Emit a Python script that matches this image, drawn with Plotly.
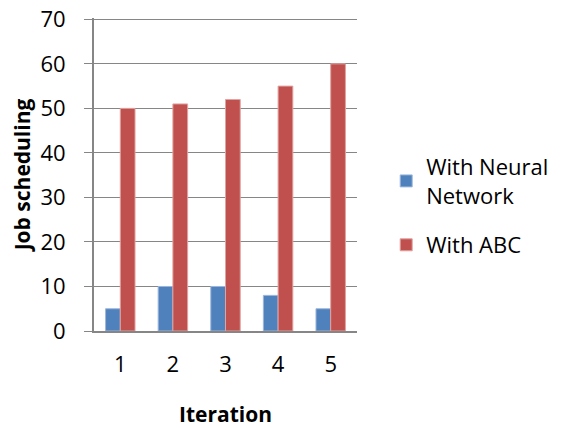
import plotly.graph_objects as go

iterations = ["1", "2", "3", "4", "5"]
neural = [5, 10, 10, 8, 5]
abc = [50, 51, 52, 55, 60]

FONT = "Open Sans"
fig = go.Figure()
fig.add_trace(go.Bar(x=iterations, y=neural, name="With Neural<br>Network",
                     legendgroup="nn",
                     marker=dict(color="#4F81BD", line=dict(color="#9DB7DC", width=1))))
fig.add_trace(go.Bar(x=iterations, y=abc, name="With ABC",
                     legendgroup="abc",
                     marker=dict(color="#C0504D", line=dict(color="#E0A3A1", width=1))))

# the page body adds an 8px offset, so the figure is sized 556x420
fig.update_layout(
    width=556, height=420,
    margin=dict(l=86, r=198, t=10, b=97),
    paper_bgcolor="white", plot_bgcolor="white",
    barmode="group", bargap=0.44, bargroupgap=0,
    font=dict(family=FONT, size=22, color="black"),
    legend=dict(x=1.111, y=0.40, xanchor="left", yanchor="middle",
                font=dict(size=22), itemwidth=30, tracegroupgap=18,
                entrywidth=100, entrywidthmode="pixels",
                bgcolor="rgba(0,0,0,0)"),
    xaxis=dict(showline=True, linecolor="#868686", linewidth=2,
               ticks="", automargin=False, ticklabelstandoff=13,
               title=dict(text="<b>Iteration</b>", standoff=35, font=dict(size=21)),
               tickfont=dict(size=22)),
    yaxis=dict(range=[0, 70.3], dtick=10, showgrid=True, gridcolor="#868686",
               gridwidth=1, showline=True, linecolor="#868686", linewidth=2,
               ticks="outside", ticklen=8, tickcolor="#868686",
               zeroline=False, automargin=False, ticklabelstandoff=14,
               ticklabeloverflow="allow",
               title=dict(text="<b>Job scheduling</b>", standoff=12, font=dict(size=21)),
               tickfont=dict(size=22)),
)
fig.write_html("out.html")
